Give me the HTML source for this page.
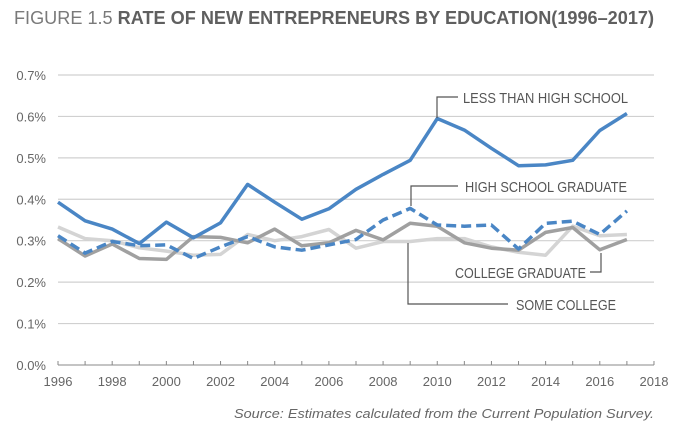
<!DOCTYPE html>
<html><head><meta charset="utf-8"><style>
html,body{margin:0;padding:0;background:#fff;}
svg{display:block;font-family:"Liberation Sans",sans-serif;}
</style></head><body>
<svg id="s" width="679" height="431" viewBox="0 0 679 431" xmlns="http://www.w3.org/2000/svg">
<text x="14" y="24" font-size="18" fill="#7a7a7a" textLength="640" lengthAdjust="spacingAndGlyphs"><tspan>FIGURE 1.5  </tspan><tspan font-weight="bold" fill="#5f5f5f">RATE OF NEW ENTREPRENEURS BY EDUCATION(1996–2017)</tspan></text>
<g id="grid"></g>
<g id="series"></g>
<g fill="none" stroke="#555" stroke-width="1.2">
<polyline points="437,118 437,97 458,97"/>
<polyline points="411,206 411,186 458,186"/>
<polyline points="590,272 601,272 601,253"/>
<polyline points="408,243 408,304 508,304"/>
</g>
<g font-size="15" fill="#555">
<text x="463" y="103" textLength="165" lengthAdjust="spacingAndGlyphs">LESS THAN HIGH SCHOOL</text>
<text x="465" y="192" textLength="162" lengthAdjust="spacingAndGlyphs">HIGH SCHOOL GRADUATE</text>
<text x="455" y="278" textLength="131" lengthAdjust="spacingAndGlyphs">COLLEGE GRADUATE</text>
<text x="516" y="310" textLength="100" lengthAdjust="spacingAndGlyphs">SOME COLLEGE</text>
</g>
<text x="654" y="418" font-size="13" font-style="italic" fill="#666" text-anchor="end" textLength="420" lengthAdjust="spacingAndGlyphs">Source: Estimates calculated from the Current Population Survey.</text>
</svg>
<script>
var NS="http://www.w3.org/2000/svg";
function X(y){return 58+(y-1996)*27.09;}
function Y(v){return 365-v*414.3;}
function el(p,t,a,txt){var e=document.createElementNS(NS,t);for(var k in a)e.setAttribute(k,a[k]);if(txt!=null)e.textContent=txt;p.appendChild(e);return e;}
var g=document.getElementById('grid');
for(var i=0;i<=7;i++){var y=Y(i/10);
 if(i>0)el(g,'line',{x1:58,x2:654,y1:y,y2:y,stroke:'#d0d0d0','stroke-width':1.2});
 el(g,'text',{x:46,y:y+5,'font-size':13,fill:'#666','text-anchor':'end'},(i/10).toFixed(1)+'%');}
el(g,'line',{x1:58,x2:654,y1:365,y2:365,stroke:'#888','stroke-width':1});
for(var yr=1996;yr<=2018;yr++){el(g,'line',{x1:X(yr),x2:X(yr),y1:361,y2:365,stroke:'#888'});
 if(yr%2==0)el(g,'text',{x:X(yr),y:386,'font-size':13,fill:'#666','text-anchor':'middle'},String(yr));}
var S=document.getElementById('series');
function line(d,c,extra){var p=d.map(function(v,i){return X(1996+i).toFixed(1)+','+Y(v).toFixed(1)}).join(' ');
 var a={points:p,fill:'none',stroke:c,'stroke-width':3.5,'stroke-linejoin':'round'};for(var k in extra)a[k]=extra[k];el(S,'polyline',a);}
line([.333,.305,.3,.283,.275,.265,.267,.315,.3,.31,.327,.282,.298,.298,.305,.305,.285,.272,.265,.335,.312,.315],'#d4d4d4');
line([.305,.263,.292,.257,.255,.31,.308,.295,.328,.288,.295,.325,.302,.342,.335,.295,.282,.277,.32,.332,.278,.303],'#a0a0a0');
line([.312,.27,.298,.288,.29,.257,.285,.31,.285,.277,.29,.303,.35,.378,.338,.335,.338,.28,.342,.347,.315,.372],'#4a86c5',{'stroke-dasharray':'10,5'});
line([.393,.348,.328,.293,.345,.307,.343,.436,.393,.352,.377,.424,.46,.494,.595,.567,.523,.481,.483,.494,.566,.607],'#4a86c5');
</script>
</body></html>
